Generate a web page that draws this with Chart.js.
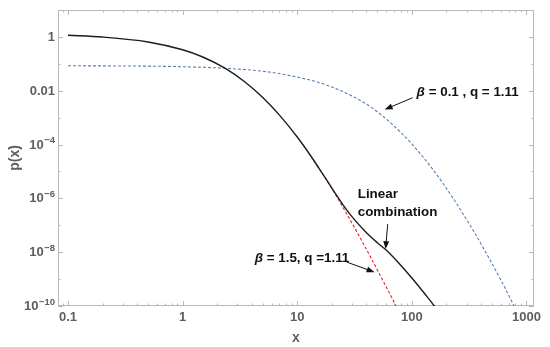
<!DOCTYPE html>
<html>
<head>
<meta charset="utf-8">
<title>p(x)</title>
<script src="https://cdn.jsdelivr.net/npm/chart.js"></script>
<style>
  html, body { margin: 0; padding: 0; background: #fff; }
</style>
</head>
<body>
<canvas id="chartP" width="550" height="347"></canvas>
<script>
// values
const xBlack = [0.1, 0.2, 0.5, 1, 1.5, 2.3, 3.5, 5, 7, 10, 13, 16, 20, 25, 30, 40, 50, 60, 75, 100, 130, 160, 175];
const yBlack = [1.15, 0.99, 0.65, 0.333, 0.179, 0.0716, 0.0211, 0.0056, 1.24e-3, 1.9e-4, 4.0e-5, 1.06e-5, 2.45e-6, 5.9e-7, 2.1e-7, 5.4e-8, 2.24e-8, 1.17e-8, 4.4e-9, 1.1e-9, 2.8e-10, 8.9e-11, 5e-11];

const xRed = [14, 18, 22, 27, 33, 40, 50, 60, 72, 80];
const yRed = [2.5e-5, 4.8e-6, 1.19e-6, 2.68e-7, 5.9e-8, 1.31e-8, 2.2e-9, 4.95e-10, 1.09e-10, 4.5e-11];

const xBlue = [0.1, 1, 3, 6, 10, 15, 20, 30, 45, 65, 100, 150, 220, 320, 450, 600, 760, 900];
const yBlue = [0.085, 0.078, 0.064, 0.048, 0.032, 0.021, 0.0138, 0.0064, 0.0023, 6.5e-4, 1.05e-4, 1.3e-5, 1.3e-6, 1.05e-7, 8.5e-9, 9e-10, 1.25e-10, 3.2e-11];

const xTickValues = [0.1, 1, 10, 100, 1000];
const xTickLabels = ['0.1', '1', '10', '100', '1000'];
const yTickValues = [1, 1e-2, 1e-4, 1e-6, 1e-8, 1e-10];
const yTickBase = ['1', '0.01', '10', '10', '10', '10'];
const yTickSup = ['', '', '−4', '−6', '−8', '−10'];

const grey = '#5e5e5e';
const frameColor = '#b8b8b8';
const fontFam = "'Liberation Sans', Arial, sans-serif";

function pts(xs, ys) {
  return xs.map((x, i) => ({ x: x, y: ys[i] }));
}

function sameVal(a, b) {
  return Math.abs(Math.log10(a) - Math.log10(b)) < 1e-6;
}

// text + arrows, placed in data coordinates
const notes = [
  { parts: [['β', true], [' = 0.1 , q = 1.11', false]], x: 110, y: 9.1e-3 },
  { parts: [['Linear', false]], x: 33.7, y: 1.4e-6 },
  { parts: [['combination', false]], x: 33.7, y: 3.0e-7 },
  { parts: [['β', true], [' = 1.5, q =1.11', false]], x: 4.25, y: 6.0e-9 }
];
const arrows = [
  { x1: 101.6, y1: 5.5e-3, x2: 57.9, y2: 2.0e-3 },
  { x1: 61.5, y1: 1.1e-7, x2: 59.0, y2: 1.3e-8 },
  { x1: 27.0, y1: 4.3e-9, x2: 47.3, y2: 1.8e-9 }
];

function drawArrow(ctx, x1, y1, x2, y2) {
  const a = Math.atan2(y2 - y1, x2 - x1);
  const c = Math.cos(a), s = Math.sin(a);
  ctx.beginPath();
  ctx.moveTo(x1, y1);
  ctx.lineTo(x2 - 6 * c, y2 - 6 * s);
  ctx.stroke();
  ctx.beginPath();
  ctx.moveTo(x2, y2);
  ctx.lineTo(x2 - 8 * c + 3 * s, y2 - 8 * s - 3 * c);
  ctx.lineTo(x2 - 8 * c - 3 * s, y2 - 8 * s + 3 * c);
  ctx.closePath();
  ctx.fill();
}

const frameTicks = {
  id: 'frameTicks',
  beforeDatasetsDraw(chart) {
    const { ctx, chartArea: a, scales } = chart;
    ctx.save();
    ctx.strokeStyle = frameColor;
    ctx.lineWidth = 1;
    ctx.strokeRect(a.left + 0.5, a.top + 0.5, a.right - a.left - 1, a.bottom - a.top - 1);
    ctx.beginPath();
    scales.x.ticks.forEach(t => {
      const px = Math.round(scales.x.getPixelForValue(t.value)) + 0.5;
      const major = xTickValues.some(v => sameVal(v, t.value));
      const len = major ? 5 : 2.5;
      ctx.moveTo(px, a.bottom); ctx.lineTo(px, a.bottom - len);
      ctx.moveTo(px, a.top); ctx.lineTo(px, a.top + len);
    });
    scales.y.ticks.forEach(t => {
      const py = Math.round(scales.y.getPixelForValue(t.value)) + 0.5;
      const major = yTickValues.some(v => sameVal(v, t.value));
      const len = major ? 5 : 2.5;
      ctx.moveTo(a.left, py); ctx.lineTo(a.left + len, py);
      ctx.moveTo(a.right, py); ctx.lineTo(a.right - len, py);
    });
    ctx.stroke();

    // y tick labels with raised exponents
    ctx.fillStyle = grey;
    ctx.textAlign = 'right';
    ctx.textBaseline = 'middle';
    yTickValues.forEach((v, i) => {
      const py = scales.y.getPixelForValue(v);
      let right = a.left - 3;
      if (yTickSup[i]) {
        ctx.font = 'bold 9.5px ' + fontFam;
        ctx.fillText(yTickSup[i], right, py - 4);
        right -= ctx.measureText(yTickSup[i]).width + 0.5;
      }
      ctx.font = 'bold 13px ' + fontFam;
      ctx.fillText(yTickBase[i], right, py + 0.5);
    });
    ctx.restore();
  },
  afterDatasetsDraw(chart) {
    const { ctx, scales } = chart;
    ctx.save();
    ctx.fillStyle = '#111';
    ctx.strokeStyle = '#111';
    ctx.lineWidth = 1;
    ctx.textBaseline = 'middle';
    notes.forEach(n => {
      let px = scales.x.getPixelForValue(n.x);
      const py = scales.y.getPixelForValue(n.y);
      n.parts.forEach(([t, it]) => {
        ctx.font = (it ? 'italic ' : '') + 'bold 13.4px ' + fontFam;
        ctx.fillText(t, px, py);
        px += ctx.measureText(t).width;
      });
    });
    arrows.forEach(r => {
      drawArrow(ctx,
        scales.x.getPixelForValue(r.x1), scales.y.getPixelForValue(r.y1),
        scales.x.getPixelForValue(r.x2), scales.y.getPixelForValue(r.y2));
    });
    ctx.restore();
  }
};

const xAll = [];
for (let e = -2; e <= 3; e++) {
  for (let m = 1; m <= 9; m++) xAll.push(m * Math.pow(10, e));
}
const yAll = [];
for (let e = -10; e <= 1; e++) yAll.push(Math.pow(10, e));

const ctx = document.getElementById('chartP').getContext('2d');
const chartP = new Chart(ctx, {
  type: 'line',
  data: {
    datasets: [
      {
        label: 'Linear combination',
        data: pts(xBlack, yBlack),
        borderColor: '#1c1c1c',
        borderWidth: 1.4,
        pointRadius: 0,
        cubicInterpolationMode: 'monotone',
        order: 0
      },
      {
        label: 'β = 1.5, q = 1.11',
        data: pts(xRed, yRed),
        borderColor: '#e3262b',
        borderWidth: 1.1,
        borderDash: [3, 2],
        pointRadius: 0,
        cubicInterpolationMode: 'monotone',
        order: 1
      },
      {
        label: 'β = 0.1, q = 1.11',
        data: pts(xBlue, yBlue),
        borderColor: '#5a7fb5',
        borderWidth: 1.1,
        borderDash: [3, 2],
        pointRadius: 0,
        cubicInterpolationMode: 'monotone',
        order: 2
      }
    ]
  },
  options: {
    responsive: false,
    animation: false,
    devicePixelRatio: 1,
    layout: { padding: { top: 10, right: 16, left: 0, bottom: 0 } },
    plugins: { legend: { display: false }, tooltip: { enabled: false } },
    scales: {
      x: {
        type: 'logarithmic',
        min: 0.0818,
        max: 1163,
        afterBuildTicks: s => {
          s.ticks = xAll.filter(v => v >= s.min && v <= s.max).map(v => ({ value: v }));
        },
        afterFit: s => { s.height = 41; },
        grid: { display: false, drawTicks: false },
        border: { display: false },
        ticks: {
          autoSkip: false,
          maxRotation: 0,
          padding: 4,
          color: grey,
          font: { family: fontFam, size: 13, weight: 'bold' },
          callback: v => {
            const i = xTickValues.findIndex(t => sameVal(t, v));
            return i >= 0 ? xTickLabels[i] : '';
          }
        },
        title: {
          display: true,
          text: 'x',
          color: grey,
          font: { family: fontFam, size: 14, weight: 'bold' },
          padding: { top: 0, bottom: 0 }
        }
      },
      y: {
        type: 'logarithmic',
        min: 1e-10,
        max: 10,
        afterBuildTicks: s => {
          s.ticks = yAll.map(v => ({ value: v }));
        },
        afterFit: s => { s.width = 58; },
        grid: { display: false, drawTicks: false },
        border: { display: false },
        ticks: { display: false },
        title: {
          display: true,
          text: 'p(x)',
          color: grey,
          font: { family: fontFam, size: 14, weight: 'bold' },
          padding: { top: 7, bottom: 0 }
        }
      }
    }
  },
  plugins: [frameTicks]
});
</script>
</body>
</html>
